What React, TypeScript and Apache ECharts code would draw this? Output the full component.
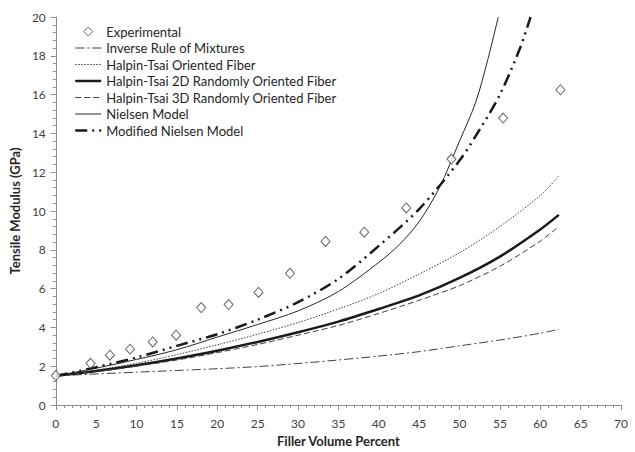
import React, { useEffect, useRef } from "react";
import * as echarts from "echarts";

// Experimental data
const EXP_X = [0, 4.3, 6.7, 9.2, 12.0, 14.9, 18.0, 21.4, 25.1, 29.0, 33.4, 38.2, 43.4, 49.0, 55.4, 62.5];
const EXP_Y = [1.52, 2.15, 2.57, 2.88, 3.25, 3.6, 5.02, 5.18, 5.8, 6.79, 8.43, 8.91, 10.16, 12.68, 14.79, 16.25];

// Model curves (shared x grid)
const MODEL_X = [0, 5, 10, 15, 20, 25, 30, 35, 40, 45, 50, 55, 60, 62.3];
const INVERSE_ROM = [1.5, 1.6, 1.69, 1.78, 1.87, 1.98, 2.14, 2.32, 2.52, 2.75, 3.05, 3.35, 3.7, 3.9];
const HT_ORIENTED = [1.5, 1.8, 2.15, 2.6, 3.1, 3.65, 4.25, 4.95, 5.75, 6.75, 7.85, 9.2, 10.8, 11.8];
const HT_2D = [1.5, 1.75, 2.05, 2.4, 2.8, 3.25, 3.75, 4.3, 4.95, 5.65, 6.55, 7.65, 9.05, 9.8];
const HT_3D = [1.5, 1.72, 2.0, 2.32, 2.7, 3.12, 3.6, 4.1, 4.72, 5.4, 6.15, 7.15, 8.45, 9.2];

const NIELSEN_X = [0, 5, 10, 15, 20, 25, 30, 35, 40, 42.5, 45, 47.5, 50, 52, 53.5, 54.8];
const NIELSEN_Y = [1.5, 1.9, 2.35, 2.85, 3.5, 4.15, 4.85, 5.85, 7.35, 8.25, 9.45, 11.2, 13.6, 15.6, 17.8, 20.0];

const MOD_NIELSEN_X = [0, 5, 10, 15, 20, 25, 30, 35, 40, 45, 50, 52.5, 55, 57.5, 58.8];
const MOD_NIELSEN_Y = [1.5, 1.95, 2.45, 3.05, 3.65, 4.4, 5.3, 6.5, 8.2, 10.1, 12.6, 14.2, 16.0, 18.4, 20.0];

const X_TICKS = { min: 0, max: 70, interval: 5 };
const Y_TICKS = { min: 0, max: 20, interval: 2 };

const SERIES_NAMES = [
  "Experimental",
  "Inverse Rule of Mixtures",
  "Halpin-Tsai Oriented Fiber",
  "Halpin-Tsai 2D Randomly Oriented Fiber",
  "Halpin-Tsai 3D Randomly Oriented Fiber",
  "Nielsen Model",
  "Modified Nielsen Model",
];

const pair = (xs: number[], ys: number[]) => xs.map((x, i) => [x, ys[i]]);

const FONT = "Lato, 'Open Sans', sans-serif";

export default function App() {
  const ref = useRef<HTMLDivElement>(null);
  useEffect(() => {
    if (!ref.current) return;
    const chart = echarts.init(ref.current, null, { renderer: "svg" });
    const styles: Record<string, { color: string; width: number; type: any }> = {
      [SERIES_NAMES[1]]: { color: "#404040", width: 1, type: [9, 3, 2, 3] },
      [SERIES_NAMES[2]]: { color: "#404040", width: 1, type: [1.5, 1.5] },
      [SERIES_NAMES[3]]: { color: "#1a1a1a", width: 2.5, type: "solid" },
      [SERIES_NAMES[4]]: { color: "#404040", width: 1, type: [6, 3] },
      [SERIES_NAMES[5]]: { color: "#262626", width: 1, type: "solid" },
      [SERIES_NAMES[6]]: { color: "#1a1a1a", width: 2.5, type: [12, 5, 2, 5, 2, 5] },
    };
    const lineSeries = (name: string, data: number[][]) => ({
      name,
      type: "line",
      data,
      symbol: "none",
      showSymbol: false,
      smooth: 0.3,
      lineStyle: { ...styles[name] },
      itemStyle: { color: styles[name].color },
      z: 2,
    });
    const axisCommon = {
      axisLine: { show: true, lineStyle: { color: "#8c8c8c", width: 1 } },
      axisTick: { show: true, length: 5, lineStyle: { color: "#8c8c8c" } },
      minorTick: { show: true, splitNumber: 5, length: 3, lineStyle: { color: "#8c8c8c" } },
      splitLine: { show: false },
      minorSplitLine: { show: false },
      axisLabel: { fontSize: 12, color: "#404040", fontFamily: FONT },
      nameTextStyle: { fontSize: 13, fontWeight: "bold", color: "#262626", fontFamily: FONT },
    };
    const hiddenSymbol = { color: "transparent", borderWidth: 0, opacity: 0 };
    chart.setOption({
      animation: false,
      backgroundColor: "#ffffff",
      grid: { left: 53, right: 14, top: 17, bottom: 46, containLabel: false },
      legend: {
        data: SERIES_NAMES.map((name, i) =>
          i === 0
            ? {
                name,
                icon: "path://M5,0 L10,5 L5,10 L0,5 Z",
                itemStyle: { color: "#ffffff", borderColor: "#404040", borderWidth: 1 },
              }
            : {
                name,
                itemStyle: hiddenSymbol,
                lineStyle: { ...styles[name], width: styles[name].width },
              }
        ),
        orient: "vertical",
        left: 69,
        top: 20,
        itemWidth: 26,
        itemHeight: 9,
        itemGap: 3.5,
        symbolKeepAspect: true,
        textStyle: { fontSize: 13, color: "#262626", fontFamily: FONT },
      },
      xAxis: {
        type: "value",
        ...X_TICKS,
        ...axisCommon,
        axisLabel: { ...axisCommon.axisLabel, margin: 12 },
        name: "Filler Volume Percent",
        nameLocation: "middle",
        nameGap: 29,
      },
      yAxis: {
        type: "value",
        ...Y_TICKS,
        ...axisCommon,
        axisLabel: { ...axisCommon.axisLabel, margin: 10 },
        name: "Tensile Modulus (GPa)",
        nameLocation: "middle",
        nameGap: 29,
      },
      series: [
        {
          name: SERIES_NAMES[0],
          type: "scatter",
          data: pair(EXP_X, EXP_Y),
          symbol: "diamond",
          symbolSize: [9, 10],
          itemStyle: { color: "#ffffff", borderColor: "#404040", borderWidth: 1 },
          z: 5,
        },
        lineSeries(SERIES_NAMES[1], pair(MODEL_X, INVERSE_ROM)),
        lineSeries(SERIES_NAMES[2], pair(MODEL_X, HT_ORIENTED)),
        lineSeries(SERIES_NAMES[3], pair(MODEL_X, HT_2D)),
        lineSeries(SERIES_NAMES[4], pair(MODEL_X, HT_3D)),
        lineSeries(SERIES_NAMES[5], pair(NIELSEN_X, NIELSEN_Y)),
        lineSeries(SERIES_NAMES[6], pair(MOD_NIELSEN_X, MOD_NIELSEN_Y)),
      ],
    });
    return () => chart.dispose();
  }, []);
  return (
    <div
      ref={ref}
      style={{ position: "fixed", left: 0, top: 0, width: 635, height: 452, background: "#fff" }}
    />
  );
}
